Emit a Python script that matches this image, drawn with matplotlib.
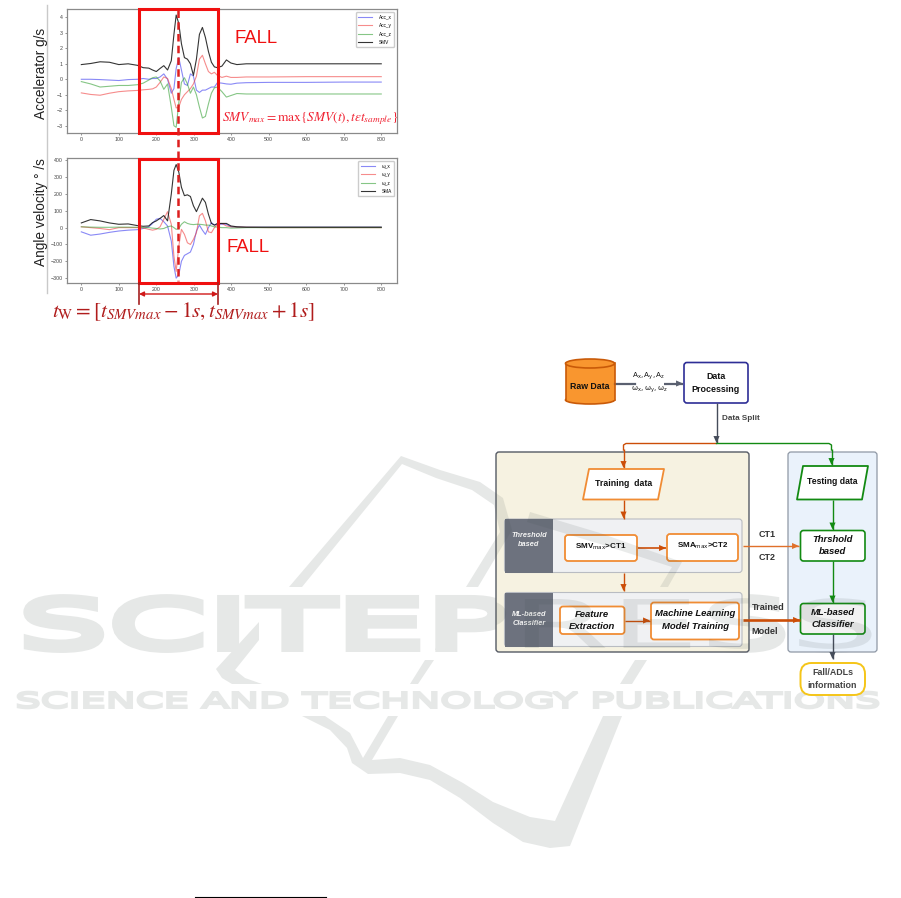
import matplotlib
matplotlib.use("Agg")
import matplotlib.pyplot as plt
from matplotlib.patches import Rectangle, FancyBboxPatch, Polygon, Ellipse
from matplotlib.patheffects import AbstractPathEffect
from matplotlib.transforms import Affine2D

plt.rcParams['font.family'] = ['Liberation Sans', 'DejaVu Sans']
plt.rcParams['mathtext.fontset'] = 'stix'

# ---------- data ----------
X = [0,25,50,75,100,125,150,165,180,190,200,210,220,230,240,247,253,260,267,275,283,291,299,307,315,323,331,339,347,355,363,375,387,399,415,440,500,600,700,800]
acc_x = [0,0,-.02,-.05,-.08,-.02,0,.05,0,.05,.05,.15,.35,0,-.9,-.6,.7,1.4,.6,-.3,-.4,.35,.2,-.7,-.85,-.7,-.7,-.6,-.5,-.5,-.22,-.25,-.3,-.32,-.25,-.22,-.2,-.2,-.18,-.18]
acc_y = [-.88,-.98,-1.03,-.9,-.8,-.75,-.72,-.68,-.65,-.62,-.5,-.2,.15,.05,-.6,-1.3,-1.85,-1.8,-1.3,-1,-.8,-.6,-.3,.2,1.3,1.55,1,.5,.35,.45,.25,.12,.2,.12,.12,.15,.15,.17,.17,.17]
acc_z = [-.15,-.3,-.5,-.45,-.4,-.4,-.35,-.25,-.05,.1,.15,-.1,-.65,-.3,-1.8,-3,-3.1,-1.5,-.2,.1,-.3,-.9,-.5,-1,-1.8,-2.5,-2.4,-1.6,-.9,-.55,-.5,-.8,-1.15,-1.05,-.92,-.95,-.95,-.95,-.95,-.95]
smv = [.95,1.02,1.13,1.1,.95,1,.9,.75,.72,.6,.5,.7,.88,.6,1.2,2.9,4.15,3.6,2.3,1.4,1.3,1,.25,1.3,2.9,3.35,2.7,1.8,1.1,.8,.75,.85,1.25,1.05,.95,1,1,1,1,1]
gyr_x = [-25,-45,-38,-28,-20,-15,-12,-5,5,25,50,55,35,10,-80,-230,-300,-280,-200,-165,-155,-145,-100,-20,15,-15,-40,0,30,15,20,20,20,5,3,2,2,2,2,2]
gyr_y = [5,0,-5,-12,0,0,0,-2,-10,-15,-10,5,50,95,20,-170,-260,-110,-10,-40,-90,-100,-70,-30,70,85,40,-25,-30,0,20,25,10,5,3,2,0,0,0,0]
gyr_z = [5,3,2,2,3,3,2,0,0,-3,-5,-8,-5,5,10,0,-10,-5,20,35,25,20,18,20,20,18,15,15,10,5,3,0,0,-3,-2,0,0,0,0,0]
sma = [28,48,40,28,20,22,12,8,10,30,40,55,72,40,200,340,375,330,240,190,195,185,130,95,135,175,150,80,25,15,25,25,25,10,5,3,3,3,3,3]
acc_labels = ['Acc_x','Acc_y','Acc_z','SMV']
gyr_labels = ['ω_x','ω_y','ω_z','SMA']
acc_ticks = [-3,-2,-1,0,1,2,3,4]
gyr_ticks = [-300,-200,-100,0,100,200,300,400]
x_ticks = [0,100,200,300,400,500,600,700,800]

W, H = 901, 898
fig = plt.figure(figsize=(W/100, H/100), dpi=100)
bg = fig.add_axes([0,0,1,1], zorder=0); bg.set_xlim(0,W); bg.set_ylim(H,0); bg.axis('off')
ov = fig.add_axes([0,0,1,1], zorder=5); ov.set_xlim(0,W); ov.set_ylim(H,0); ov.axis('off'); ov.patch.set_alpha(0)

def make_axes(top, bottom):
    return fig.add_axes([66.7/W, 1-bottom/H, (397-66.7)/W, (bottom-top)/H], zorder=2)
cols = ['#3b3bf0','#f04040','#35a035','#111111']
alph = [.6,.6,.6,.85]

ax1 = make_axes(9,133)
for y,l,c,a in zip([acc_x,acc_y,acc_z,smv],acc_labels,cols,alph):
    ax1.plot(X,y,color=c,lw=.8,alpha=a,label=l)
ax1.set_ylim(-3.47,4.54); ax1.set_yticks(acc_ticks)
ax2 = make_axes(158.3,282.5)
for y,l,c,a in zip([gyr_x,gyr_y,gyr_z,sma],gyr_labels,cols,alph):
    ax2.plot(X,y,color=c,lw=.8,alpha=a,label=l)
ax2.set_ylim(-326,412); ax2.set_yticks(gyr_ticks)
for ax in (ax1,ax2):
    ax.set_xlim(-39,842); ax.set_xticks(x_ticks)
    ax.tick_params(labelsize=3.8,length=1.5,width=.4,pad=1.5,colors='#444444')
    for s in ax.spines.values():
        s.set_color('#8a8a8a'); s.set_linewidth(.9)
    ax.legend(loc='upper right',fontsize=3.4,frameon=True,borderpad=.5,labelspacing=.75,
              handlelength=3,edgecolor='#cccccc',framealpha=1,fancybox=True,borderaxespad=.6,
              handletextpad=1.4)

# axis titles and annotations
ov.plot([47,47],[5,293],color='#c9c9c9',lw=1)
ov.text(40.5,73,'Accelerator g/s',rotation=90,ha='center',va='center',fontsize=9.8,color='#222222')
ov.text(40.5,212,'Angle velocity ° /s',rotation=90,ha='center',va='center',fontsize=9.8,color='#222222')
RED='#f01010'
for t,b in [(9,133),(158.5,283)]:
    ov.add_patch(Rectangle((139,t),79,b-t,fill=False,ec=RED,lw=2.2))
ov.plot([177.5,177.5],[10,281],color='#dd1f1f',lw=1.8,dashes=(3,1.7))
ov.text(235,38.5,'FALL',fontsize=13.3,color=RED,va='center')
ov.text(226,247,'FALL',fontsize=13.3,color=RED,va='center')
ov.text(222,118.5,r'$SMV_{max}=\max\{SMV(t),t\epsilon t_{sample}\}$',fontsize=9.6,color='#f02030',va='center')
ov.text(52,312,r'$t_{\mathrm{W}}=[t_{SMVmax}-1s,t_{SMVmax}+1s]$',fontsize=15.2,color='#b01c1c',va='center')
for xx in (139,218):
    ov.plot([xx,xx],[283,304],color='#a52020',lw=1.2)
ov.annotate('',xy=(139,294),xytext=(218,294),arrowprops=dict(arrowstyle='<|-|>',color='#d01818',lw=1,mutation_scale=7,shrinkA=0,shrinkB=0))

# footnote rule
ov.plot([195,326],[897,897],color='black',lw=.8)

# ---------- flow diagram ----------
def rbox(x0,y0,x1,y1,fc,ec,lw=1.2,r=3,z=2):
    p=FancyBboxPatch((x0+r,y0+r),x1-x0-2*r,y1-y0-2*r,boxstyle=f"round,pad={r}",fc=fc,ec=ec,lw=lw,zorder=z)
    ov.add_patch(p); return p
def para(x0,y0,x1,y1,sk,ec):
    ov.add_patch(Polygon([(x0+sk,y0),(x1,y0),(x1-sk,y1),(x0,y1)],closed=True,fc='white',ec=ec,lw=1.3,joinstyle='round',zorder=3))
def arrow(pts,c,lw=1):
    xs,ys=zip(*pts)
    ov.plot(xs,ys,color=c,lw=lw,zorder=2.5,solid_capstyle='butt')
    ov.annotate('',xy=pts[-1],xytext=pts[-2],
                arrowprops=dict(arrowstyle='-|>,head_length=0.5,head_width=0.22',color=c,lw=0,mutation_scale=10,shrinkA=0,shrinkB=0),zorder=3)
def lab(x,y,s,fs=5.8,w='bold',st='normal',c='#111111',z=4):
    ov.text(x,y,s,ha='center',va='center',fontsize=fs,fontweight=w,fontstyle=st,color=c,zorder=z,linespacing=1.45,math_fontfamily='dejavusans')

ORG='#f08c34'; DOR='#cc4e08'; GRN='#128a12'; NAVY='#2e2e96'; SL='#454c5a'

# panels
rbox(496,452,749,652,'#f6f2e1','#555a64',1)
rbox(788,452,877,652,'#eaf2fb','#8f98a5',.9)
for t,b in [(519,572.5),(592.5,646.5)]:
    rbox(504.5,t,742,b,'#f0f1f3','#b9bcc2',.8)
    ov.add_patch(Rectangle((504.5,t),48,b-t,fc='#6d727e',ec='none',zorder=2.2))
lab(529,540,'Threshold\nbased',5.3,'bold','italic','#f2f2f2')
lab(529,619,'ML-based\nClassifier',5.3,'bold','italic','#f2f2f2')

# cylinder
ov.add_patch(Rectangle((565.5,363),49,37,fc='#f9962f',ec='none',zorder=2))
ov.add_patch(Ellipse((590,400),49,8,fc='#f9962f',ec='#c95a08',lw=1.2,zorder=1.9))
ov.plot([565.5,565.5],[363,400],color='#c95a08',lw=1.2,zorder=2.1)
ov.plot([614.5,614.5],[363,400],color='#c95a08',lw=1.2,zorder=2.1)
ov.add_patch(Ellipse((590,363.5),49,9,fc='#f9962f',ec='#c95a08',lw=1.2,zorder=2.2))
lab(590,386.5,'Raw Data',6.3)

rbox(684,362.5,748,403,'white',NAVY,1.2)
lab(716,383,'Data\nProcessing',6.4)
lab(649,383,'$\\mathrm{A_x,A_y,A_z}$\n$\\mathrm{\\omega_x,\\omega_y,\\omega_z}$',5.2,'normal')
ov.plot([615,635],[383.5,383.5],color='#5a6070',lw=1.6,zorder=2)
arrow([(664,383.5),(683,383.5)],'#5a6070',1.6)
arrow([(716.5,403),(716.5,443)],SL,1)
lab(741,418.5,'Data Split',5.9,'bold','normal','#444444')

ov.plot([716.5,626,623.5,623.5],[443.5,443.5,445,450],color=DOR,lw=1,zorder=2.5)
arrow([(623.5,449),(623.5,468)],DOR,1)
ov.plot([716.5,829,831.5,831.5],[443.5,443.5,445,450],color=GRN,lw=1,zorder=2.5)
arrow([(831.5,449),(831.5,465)],GRN,1)

para(583,469,664,499.5,6,ORG); lab(623.5,483,'Training  data',6.3)
para(797,466,868,499.5,6,GRN); lab(832.5,481.5,'Testing data',6.2)
arrow([(623.5,499.5),(623.5,518.5)],DOR,1)
arrow([(832.5,499.5),(832.5,529.5)],GRN,1)

rbox(565,535,637,561,'white',ORG,1.3)
lab(601,546.5,'SMV$_{\\mathrm{max}}$>CT1',5.8)
rbox(667,534,738,561,'white',ORG,1.3)
lab(702.5,546,'SMA$_{\\mathrm{max}}$>CT2',5.8)
arrow([(638,548),(666,548)],DOR,1.2)
rbox(800.5,530.5,865,561,'white',GRN,1.2)
lab(832.5,545.5,'Thrshold\nbased',6.8,'bold','italic')
arrow([(743,546),(799,546)],'#e0702a',1)
lab(767.5,534.5,'CT1',6.5,'bold','normal','#333333')
lab(767.5,558,'CT2',6.5,'bold','normal','#333333')

arrow([(623.5,573),(623.5,591)],DOR,1)
rbox(560,606.5,624.5,634,'white',ORG,1.3)
lab(592,620.5,'Feature\nExtraction',6.8,'bold','italic')
rbox(651,602.5,739,639.5,'white',ORG,1.3)
lab(695,620,'Machine Learning\nModel Training',6.8,'bold','italic')
arrow([(625,620.5),(650,620.5)],DOR,1)
arrow([(743,620),(800,620)],DOR,1.9)
rbox(800.5,603.5,865,634,'#f2f2f2',GRN,1.2)
lab(832.5,618.5,'ML-based\nClassifier',6.8,'bold','italic')
lab(768,607.5,'Trained',6.6,'bold','normal','#333333')
lab(765,631.5,'Model',6.6,'bold','normal','#333333')
arrow([(832.5,561),(832.5,602.5)],GRN,1)
arrow([(832.5,634),(832.5,659)],SL,1)
rbox(800.5,663,865,695,'white','#f5c518',1.4,r=11)
lab(832.5,679,'Fall/ADLs\ninformation',6.4,'bold','normal','#444444')

# ---------- watermark ----------
class StretchX(AbstractPathEffect):
    """Widen a text horizontally and optionally thicken it with a stroke (px)."""
    def __init__(self,x0,sx,stroke=0):
        super().__init__(); self.x0=x0; self.sx=sx; self.stroke=stroke
    def draw_path(self,renderer,gc,tpath,affine,rgbFace=None):
        tr=affine+Affine2D().translate(-self.x0,0).scale(self.sx,1).translate(self.x0,0)
        gc0=renderer.new_gc(); gc0.copy_properties(gc)
        gc0.set_linewidth(self.stroke*72/100)
        gc0.set_joinstyle('miter')
        renderer.draw_path(gc0,tpath,tr,rgbFace)
        gc0.restore()

WM_SOLID='#e6e8e7'
WM='#3f4d48'; WA=.11
PANELS=[(496,452,253,200),(788,452,89,200)]
LOGO=[
 [(289,587),(401,456),(440,470),(480,482),(503,498),(512,530),(478,587),(466,587),(500,532),(494,505),(472,490),(436,478),(402,464),(302,587)],
 [(530,512),(600,533),(682,562),(668,587),(660,587),(672,567),(600,544),(527,522)],
 [(216,669),(259,622),(259,640),(235,670),(245,678),(262,684),(232,684),(222,678)],
 [(425,660),(434,660),(418,684),(410,684)],
 [(440,638),(446,638),(439,650),(435,650)],
 [(620,684),(635,660),(647,660),(632,684)],
 [(302,716),(325,716),(350,733),(363,758),(388,716),(398,716),(372,760),(400,758),(430,765),(463,783),(493,802),(530,817),(555,821),(603,716),(622,716),(570,846),(550,848),(523,842),(493,823),(460,798),(430,780),(400,773),(368,774),(352,763),(347,748),(330,730)],
]
for pts in LOGO:
    bg.add_patch(Polygon(pts,closed=True,fc=WM_SOLID,ec='none'))
    for (x,y,w,h) in PANELS:
        p=Polygon(pts,closed=True,fc=WM,ec='none',alpha=WA,zorder=6)
        ov.add_patch(p); p.set_clip_path(Rectangle((x,y),w,h,transform=ov.transData))

def wm_text(s,x0,x1,ybase,cap,stroke):
    fs=(cap-stroke)/.729*72/100
    xa=x0+stroke/2; xb=x1-stroke/2; yb=ybase-stroke/2
    t=bg.text(xa,yb,s,fontsize=fs,color=WM_SOLID,ha='left',va='baseline',family='DejaVu Sans')
    fig.canvas.draw()
    sx=(xb-xa)/t.get_window_extent().width
    t.set_path_effects([StretchX(xa,sx,stroke)])
    for (x,y,w,h) in PANELS:
        o=ov.text(xa,yb,s,fontsize=fs,color=WM,alpha=WA,ha='left',va='baseline',family='DejaVu Sans',zorder=6)
        o.set_path_effects([StretchX(xa,sx,0)])
        o.set_clip_on(True)
        o.set_clip_path(Rectangle((x,y),w,h,transform=ov.transData))
wm_text('SCITEPRESS',14,884,652,57,8)
wm_text('SCIENCE AND TECHNOLOGY PUBLICATIONS',14,884,709,18,2.6)

fig.savefig('out.png',dpi=100)
